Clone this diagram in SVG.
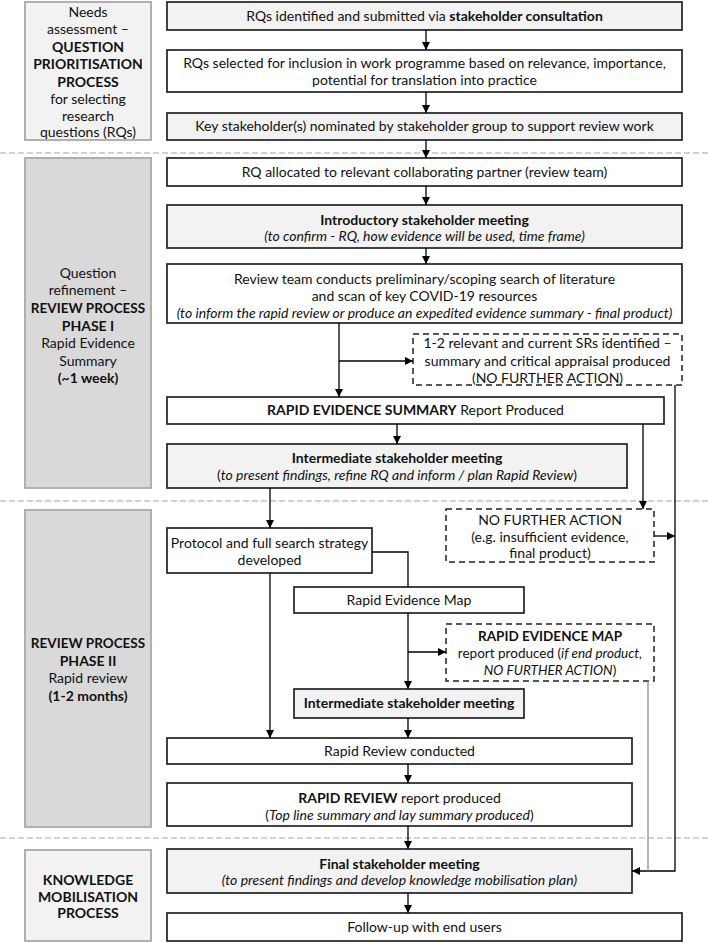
<svg xmlns="http://www.w3.org/2000/svg" width="708" height="943" viewBox="0 0 708 943">
<defs>
<marker id="ah" markerUnits="userSpaceOnUse" markerWidth="8" markerHeight="8" refX="8" refY="4" orient="auto">
<path d="M0,0 L8,4 L0,8 z" fill="#000"/>
</marker>
<style>
text{font-family:Lato,"Liberation Sans",sans-serif;font-size:14px;fill:#111;text-anchor:middle}
.b{font-weight:bold}
.i{font-style:italic}
.sm{font-size:13.5px}
.box{fill:#fff;stroke:#222;stroke-width:1.7}
.gbox{fill:#f2f2f2;stroke:#222;stroke-width:1.7}
.dbox{fill:#fff;stroke:#222;stroke-width:1.5;stroke-dasharray:6 4}
.side1{fill:#f2f2f2;stroke:#b0b0b0;stroke-width:2}
.side2{fill:#d9d9d9;stroke:#b0b0b0;stroke-width:2}
.sep{stroke:#a6a6a6;stroke-width:1.2;stroke-dasharray:6 3;fill:none}
.c{stroke:#000;stroke-width:1.3;fill:none}
.ca{stroke:#000;stroke-width:1.3;fill:none;marker-end:url(#ah)}
.cg{stroke:#888;stroke-width:1.2;fill:none}
</style>
</defs>

<g id="separators">
<line class="sep" x1="0" y1="153" x2="708" y2="153"/>
<line class="sep" x1="0" y1="501" x2="708" y2="501"/>
<line class="sep" x1="0" y1="838" x2="708" y2="838"/>
</g>

<g id="phase-qpp">
<rect class="side1" x="25" y="2" width="126" height="138"/>
<text x="88" y="17">Needs</text>
<text x="88" y="34">assessment –</text>
<text x="88" y="52" class="b">QUESTION</text>
<text x="88" y="69" class="b">PRIORITISATION</text>
<text x="88" y="87" class="b">PROCESS</text>
<text x="88" y="104">for selecting</text>
<text x="88" y="121">research</text>
<text x="88" y="137">questions (RQs)</text>
</g>

<g id="phase-1">
<rect class="side2" x="25" y="158" width="126" height="330"/>
<text x="88" y="278">Question</text>
<text x="88" y="295">refinement –</text>
<text x="88" y="313" class="b sm">REVIEW PROCESS</text>
<text x="88" y="331" class="b">PHASE I</text>
<text x="88" y="348">Rapid Evidence</text>
<text x="88" y="366">Summary</text>
<text x="88" y="383" class="b">(~1 week)</text>
</g>

<g id="phase-2">
<rect class="side2" x="25" y="510" width="126" height="317"/>
<text x="88" y="648" class="b sm">REVIEW PROCESS</text>
<text x="88" y="666" class="b">PHASE II</text>
<text x="88" y="683">Rapid review</text>
<text x="88" y="701" class="b">(1-2 months)</text>
</g>

<g id="phase-km">
<rect class="side1" x="25" y="850" width="126" height="91"/>
<text x="88" y="885" class="b">KNOWLEDGE</text>
<text x="88" y="902" class="b">MOBILISATION</text>
<text x="88" y="918" class="b">PROCESS</text>
</g>

<g id="n-identified">
<rect class="gbox" x="167" y="2" width="515" height="28"/>
<text x="424.5" y="21">RQs identified and submitted via <tspan class="b">stakeholder consultation</tspan></text>
</g>

<g id="n-selected">
<rect class="box" x="167" y="50" width="515" height="42"/>
<text x="424.5" y="68">RQs selected for inclusion in work programme based on relevance, importance,</text>
<text x="424.5" y="85">potential for translation into practice</text>
</g>

<g id="n-key">
<rect class="gbox" x="167" y="113" width="515" height="27"/>
<text x="424.5" y="131">Key stakeholder(s) nominated by stakeholder group to support review work</text>
</g>

<g id="n-allocated">
<rect class="box" x="167" y="158" width="515" height="28"/>
<text x="424.5" y="177">RQ allocated to relevant collaborating partner (review team)</text>
</g>

<g id="n-intro">
<rect class="gbox" x="167" y="205" width="515" height="43"/>
<text x="424.5" y="225" class="b">Introductory stakeholder meeting</text>
<text x="424.5" y="241" class="i">(to confirm - RQ, how evidence will be used, time frame)</text>
</g>

<g id="n-scoping">
<rect class="box" x="167" y="264" width="515" height="59"/>
<text x="424.5" y="284">Review team conducts preliminary/scoping search of literature</text>
<text x="424.5" y="301">and scan of key COVID-19 resources</text>
<text x="424.5" y="318" class="i">(to inform the rapid review or produce an expedited evidence summary - final product)</text>
</g>

<g id="n-srs">
<rect class="dbox" x="413" y="334" width="269" height="51"/>
<text x="547.5" y="348">1-2 relevant and current SRs identified –</text>
<text x="547.5" y="366">summary and critical appraisal produced</text>
<text x="547.5" y="383">(NO FURTHER ACTION)</text>
</g>

<g id="n-res">
<rect class="box" x="167" y="397" width="497" height="27"/>
<text x="415.5" y="415"><tspan class="b">RAPID EVIDENCE SUMMARY</tspan>  Report Produced</text>
</g>

<g id="n-intermediate1">
<rect class="gbox" x="167" y="444" width="460" height="44"/>
<text x="397" y="463" class="b">Intermediate stakeholder meeting</text>
<text x="397" y="480">(<tspan class="i">to present findings, refine RQ and inform / plan Rapid Review</tspan>)</text>
</g>

<g id="n-nfa">
<rect class="dbox" x="446" y="509" width="208" height="53"/>
<text x="550" y="525">NO FURTHER ACTION</text>
<text x="550" y="542">(e.g. insufficient evidence,</text>
<text x="550" y="558">final product)</text>
</g>

<g id="n-protocol">
<rect class="box" x="167" y="528" width="205" height="45"/>
<text x="269.5" y="548">Protocol and full search strategy</text>
<text x="269.5" y="565">developed</text>
</g>

<g id="n-rem">
<rect class="box" x="294" y="587" width="230" height="26"/>
<text x="409" y="605">Rapid Evidence Map</text>
</g>

<g id="n-rem-report">
<rect class="dbox" x="446" y="624" width="208" height="57"/>
<text x="550" y="641" class="b sm">RAPID EVIDENCE MAP</text>
<text x="550" y="658" class="sm">report produced (<tspan class="i">if end product,</tspan></text>
<text x="550" y="675" class="sm"><tspan class="i">NO FURTHER ACTION</tspan>)</text>
</g>

<g id="n-intermediate2">
<rect class="gbox" x="294" y="689" width="230" height="29"/>
<text x="409" y="708" class="b">Intermediate stakeholder meeting</text>
</g>

<g id="n-rr">
<rect class="box" x="167" y="738" width="465" height="26"/>
<text x="399.5" y="756">Rapid Review conducted</text>
</g>

<g id="n-rr-report">
<rect class="box" x="167" y="783" width="465" height="43"/>
<text x="399.5" y="803"><tspan class="b">RAPID REVIEW</tspan> report produced</text>
<text x="399.5" y="820">(<tspan class="i">Top line summary and lay summary produced</tspan>)</text>
</g>

<g id="n-final">
<rect class="gbox" x="167" y="849" width="465" height="44"/>
<text x="399.5" y="869" class="b">Final stakeholder meeting</text>
<text x="399.5" y="885" class="i">(to present findings and develop knowledge mobilisation plan)</text>
</g>

<g id="n-followup">
<rect class="box" x="167" y="913" width="515" height="28"/>
<text x="424.5" y="932">Follow-up with end users</text>
</g>

<g id="connectors">
<line class="ca" x1="426" y1="30" x2="426" y2="50"/>
<line class="ca" x1="426" y1="92" x2="426" y2="113"/>
<line class="ca" x1="426" y1="140" x2="426" y2="158"/>
<line class="ca" x1="426" y1="186" x2="426" y2="205"/>
<line class="ca" x1="426" y1="248" x2="426" y2="264"/>
<line class="ca" x1="339" y1="323" x2="339" y2="397"/>
<line class="ca" x1="339" y1="361" x2="413" y2="361"/>
<line class="ca" x1="397" y1="424" x2="397" y2="444"/>
<line class="ca" x1="643" y1="424" x2="643" y2="509"/>
<polyline class="ca" points="675,385 675,871 632,871"/>
<line class="ca" x1="654" y1="536" x2="675" y2="536"/>
<line class="ca" x1="270" y1="488" x2="270" y2="528"/>
<line class="ca" x1="270" y1="573" x2="270" y2="738"/>
<polyline class="c" points="372,552 408,552 408,587"/>
<line class="ca" x1="408" y1="613" x2="408" y2="689"/>
<line class="ca" x1="408" y1="652" x2="446" y2="652"/>
<line class="ca" x1="408" y1="718" x2="408" y2="738"/>
<line class="ca" x1="408" y1="764" x2="408" y2="783"/>
<line class="ca" x1="408" y1="826" x2="408" y2="849"/>
<line class="ca" x1="408" y1="893" x2="408" y2="913"/>
<line class="cg" x1="648" y1="681" x2="648" y2="871"/>
</g>
</svg>
